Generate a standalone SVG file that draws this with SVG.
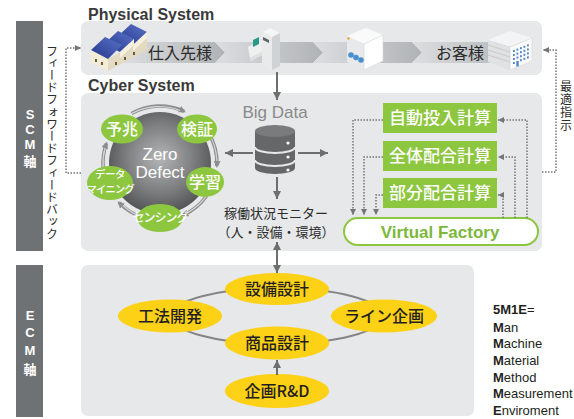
<svg xmlns="http://www.w3.org/2000/svg" width="574" height="419" viewBox="0 0 574 419">
  <style>
    .panel { fill: #e6e8e9; }
    .axis { fill: #6f7275; }
    .axis-t { font-family: "Liberation Sans", "Noto Sans CJK JP", sans-serif; font-weight: bold; font-size: 13px; fill: #ffffff; text-anchor: middle; }
    .title { font-family: "Liberation Sans", sans-serif; font-weight: bold; font-size: 16px; fill: #3a3a3a; }
    .jp { font-family: "Noto Sans CJK JP", sans-serif; }
    .dark { fill: #2b2b2b; }
    .solid { fill: none; stroke: #6e6e6e; stroke-width: 2; }
    .dot { fill: none; stroke: #757575; stroke-width: 1.5; stroke-dasharray: 1.5 1.5; }
    .ring { fill: none; stroke: #8e8e8e; stroke-width: 3.5; }
    .ring-hi { fill: none; stroke: #d6d6d6; stroke-width: 1.2; }
    .green { fill: #8dc63f; }
    .gtxt { font-family: "Noto Sans CJK JP", sans-serif; font-weight: 500; fill: #ffffff; text-anchor: middle; }
    .yellow { fill: #fdd116; }
    .ytxt { font-family: "Noto Sans CJK JP", sans-serif; font-weight: 500; font-size: 16px; fill: #231f20; text-anchor: middle; }
    .m5 { font-family: "Liberation Sans", sans-serif; font-size: 13px; fill: #231f20; }
  </style>
  <defs>
    <linearGradient id="band" x1="0" y1="0" x2="1" y2="0">
      <stop offset="0" stop-color="#dcdee0"/>
      <stop offset="1" stop-color="#b0b3b5"/>
    </linearGradient>
    <radialGradient id="zd" cx="0.5" cy="0.45" r="0.55">
      <stop offset="0" stop-color="#b4b5b7"/>
      <stop offset="0.6" stop-color="#7d7e80"/>
      <stop offset="1" stop-color="#535456"/>
    </radialGradient>
    <linearGradient id="roof" x1="0" y1="1" x2="1" y2="0">
      <stop offset="0" stop-color="#24378a"/>
      <stop offset="1" stop-color="#5a73c8"/>
    </linearGradient>
    <marker id="ah" viewBox="0 0 8 8" refX="8" refY="4" markerWidth="8" markerHeight="8" markerUnits="userSpaceOnUse" orient="auto-start-reverse">
      <path d="M0,0 L8,4 L0,8 z" fill="#6e6e6e"/>
    </marker>
    <marker id="ahd" viewBox="0 0 6 6" refX="6" refY="3" markerWidth="6" markerHeight="6" markerUnits="userSpaceOnUse" orient="auto">
      <path d="M0,0 L6,3 L0,6 z" fill="#757575"/>
    </marker>
    <marker id="ahr" viewBox="0 0 7 7" refX="5" refY="3.5" markerWidth="7" markerHeight="7" markerUnits="userSpaceOnUse" orient="auto">
      <path d="M0,0 L7,3.5 L0,7 z" fill="#8e8e8e"/>
    </marker>
  </defs>

  <!-- axis bars -->
  <g id="scm-axis">
    <rect class="axis" x="16" y="21" width="27" height="230"/>
    <text class="axis-t" x="30" y="119">S</text>
    <text class="axis-t" x="30" y="134">C</text>
    <text class="axis-t" x="30" y="149">M</text>
    <text class="axis-t" x="30" y="166">軸</text>
  </g>
  <g id="ecm-axis">
    <rect class="axis" x="16" y="265" width="27" height="152"/>
    <text class="axis-t" x="30" y="320">E</text>
    <text class="axis-t" x="30" y="337">C</text>
    <text class="axis-t" x="30" y="355">M</text>
    <text class="axis-t" x="30" y="374">軸</text>
  </g>

  <!-- panels -->
  <g id="physical-system">
    <rect class="panel" x="81" y="21" width="461" height="54" rx="7"/>
    <text class="title" x="88" y="20">Physical System</text>
    <polygon fill="url(#band)" points="122,42 215,42 225,52.5 215,63 122,63"/>
    <polygon fill="url(#band)" points="215,42 313,42 323,52.5 313,63 215,63 225,52.5"/>
    <polygon fill="url(#band)" points="313,42 412,42 422,52.5 412,63 313,63 323,52.5"/>
    <polygon fill="url(#band)" points="412,42 525,42 525,63 412,63 422,52.5"/>
  </g>
  <g id="cyber-system">
    <rect class="panel" x="81" y="93" width="461" height="158" rx="7"/>
    <text class="title" x="88" y="91">Cyber System</text>
  </g>
  <g id="ecm-panel">
    <rect class="panel" x="81" y="265" width="393" height="151" rx="7"/>
  </g>

  <!-- supplier factory -->
  <g id="supplier">
    <polygon fill="#f3ecd6" points="91,50 108,59 108,71 91,62"/>
    <polygon fill="#e2dac2" points="108,59 147,38 147,50 108,71"/>
    <g fill="#6b5a3a">
      <rect x="95" y="59" width="2" height="3"/>
      <rect x="101" y="62" width="2" height="3"/>
      <rect x="115" y="62" width="2" height="3"/>
      <rect x="124" y="57" width="2" height="3"/>
      <rect x="133" y="52" width="2" height="3"/>
    </g>
    <polygon fill="url(#roof)" points="117,37 131,24 147,32 133,45"/>
    <polygon fill="#f6f0de" points="133,45 147,32 147,38 133,51"/>
    <polygon fill="url(#roof)" points="104,44 118,31 134,39 120,52"/>
    <polygon fill="#f6f0de" points="120,52 134,39 134,45 120,58"/>
    <polygon fill="url(#roof)" points="91,50 105,37 122,45 108,59"/>
    <text class="jp dark" x="148" y="59" font-size="16">仕入先様</text>
  </g>

  <!-- production machine -->
  <g id="machine">
    <polygon fill="#f4f5f5" points="262,32 270,28 280,33 272,37"/>
    <polygon fill="#e9ebeb" points="262,32 272,37 272,70 262,65"/>
    <polygon fill="#cfd3d4" points="272,37 280,33 280,66 272,70"/>
    <polygon fill="#eef0f0" points="248,47 262,40 262,52 250,58"/>
    <polygon fill="#dfe2e3" points="250,58 262,52 262,55 251,61"/>
    <polygon fill="#2a9a86" points="253,40 259,37 259,44 253,47"/>
    <polygon fill="#5d6468" points="263,37 269,40 269,43 263,40"/>
  </g>

  <!-- process unit -->
  <g id="process-unit">
    <polygon fill="#fafafa" points="347,36 366,28 383,35 364,44"/>
    <polygon fill="#e8e9ea" points="347,36 364,44 364,70 347,62"/>
    <polygon fill="#ffffff" stroke="#d3d5d6" stroke-width="0.6" points="364,44 383,35 383,61 364,70"/>
    <circle cx="348.5" cy="38.5" r="1.2" fill="#f0a030"/>
    <circle cx="351" cy="55" r="2.8" fill="#4a8fd0"/>
    <circle cx="356" cy="57.5" r="2.8" fill="#4a8fd0"/>
    <circle cx="361" cy="60" r="2.8" fill="#4a8fd0"/>
  </g>

  <!-- customer office -->
  <g id="customer">
    <text class="jp dark" x="436" y="59" font-size="16">お客様</text>
    <polygon fill="#f4f4f4" points="488,40 510,31 532,38 510,47"/>
    <polygon fill="#dfe1e2" points="488,40 510,47 510,70 488,62"/>
    <polygon fill="#fafafa" stroke="#d3d5d6" stroke-width="0.6" points="510,47 532,38 532,61 510,70"/>
    <g stroke="#b9bcbe" stroke-width="0.6">
      <line x1="488" y1="45" x2="510" y2="52"/>
      <line x1="488" y1="50" x2="510" y2="57"/>
      <line x1="488" y1="55" x2="510" y2="62"/>
    </g>
    <g fill="#4f86c6">
      <rect x="513" y="50" width="1.8" height="2"/><rect x="516.5" y="48.6" width="1.8" height="2"/><rect x="520" y="47.2" width="1.8" height="2"/><rect x="523.5" y="45.8" width="1.8" height="2"/><rect x="527" y="44.4" width="1.8" height="2"/>
      <rect x="513" y="54" width="1.8" height="2"/><rect x="516.5" y="52.6" width="1.8" height="2"/><rect x="520" y="51.2" width="1.8" height="2"/><rect x="523.5" y="49.8" width="1.8" height="2"/><rect x="527" y="48.4" width="1.8" height="2"/>
      <rect x="513" y="58" width="1.8" height="2"/><rect x="516.5" y="56.6" width="1.8" height="2"/><rect x="520" y="55.2" width="1.8" height="2"/><rect x="523.5" y="53.8" width="1.8" height="2"/><rect x="527" y="52.4" width="1.8" height="2"/>
      <rect x="513" y="62" width="1.8" height="2"/><rect x="520" y="59.2" width="1.8" height="2"/><rect x="523.5" y="57.8" width="1.8" height="2"/><rect x="527" y="56.4" width="1.8" height="2"/>
      <rect x="516.3" y="61" width="2.4" height="5.5"/>
    </g>
  </g>

  <!-- zero defect cycle -->
  <g id="zero-defect">
    <circle cx="160" cy="163" r="51" fill="url(#zd)"/>
    <text x="160" y="160" font-family="Liberation Sans, sans-serif" font-size="17" fill="#ffffff" text-anchor="middle">Zero</text>
    <text x="160" y="178" font-family="Liberation Sans, sans-serif" font-size="17" fill="#ffffff" text-anchor="middle">Defect</text>
  </g>

  <g id="cycle-arrows">
    <path class="ring" marker-end="url(#ahr)" d="M131.5,113.6 A57,57 0 0 1 184.1,111.3"/>
    <path class="ring" marker-end="url(#ahr)" d="M208.3,132.8 A57,57 0 0 1 216.9,166"/>
    <path class="ring" marker-end="url(#ahr)" d="M206.7,195.7 A57,57 0 0 1 183.2,215.1"/>
    <path class="ring" marker-end="url(#ahr)" d="M142.4,217.2 A57,57 0 0 1 119,202.6"/>
    <path class="ring" marker-end="url(#ahr)" d="M103.2,168 A57,57 0 0 1 106.4,143.5"/>
    <path class="ring-hi" d="M131.5,113.6 A57,57 0 0 1 180,110.5"/>
    <path class="ring-hi" d="M208.3,132.8 A57,57 0 0 1 216.9,161"/>
    <path class="ring-hi" d="M206.7,195.7 A57,57 0 0 1 187,213"/>
    <path class="ring-hi" d="M142.4,217.2 A57,57 0 0 1 123,205.5"/>
    <path class="ring-hi" d="M103.2,168 A57,57 0 0 1 105,148"/>
  </g>

  <g id="yocho">
    <ellipse class="green" cx="122" cy="129" rx="21" ry="14.5"/>
    <text class="gtxt" x="122" y="135" font-size="16">予兆</text>
  </g>
  <g id="kensho">
    <ellipse class="green" cx="197" cy="129" rx="20" ry="14.5"/>
    <text class="gtxt" x="197" y="135" font-size="16">検証</text>
  </g>
  <g id="gakushu">
    <ellipse class="green" cx="205" cy="182" rx="19" ry="15"/>
    <text class="gtxt" x="205" y="188" font-size="16">学習</text>
  </g>
  <g id="sensing">
    <ellipse class="green" cx="160" cy="218" rx="23" ry="14"/>
    <text class="gtxt" x="160" y="222" font-size="12" letter-spacing="-1">センシング</text>
  </g>
  <g id="data-mining">
    <ellipse class="green" cx="110" cy="183" rx="23" ry="17"/>
    <text class="gtxt" x="110" y="178" font-size="10.5" letter-spacing="-0.5">データ</text>
    <text class="gtxt" x="110" y="193" font-size="10.5" letter-spacing="-1">マイニング</text>
  </g>

  <!-- big data -->
  <g id="big-data">
    <text x="275" y="118" font-family="Liberation Sans, sans-serif" font-size="17" fill="#8a8a8a" text-anchor="middle">Big Data</text>
    <path fill="#666769" d="M255,131 V168 A20,6 0 0 0 295,168 V131 Z"/>
    <ellipse cx="275" cy="131" rx="20" ry="6" fill="#7a7b7d"/>
    <path fill="none" stroke="#e6e8e9" stroke-width="2" d="M255,147 A20,6 0 0 0 295,147 M255,160 A20,6 0 0 0 295,160"/>
    <circle cx="288" cy="143" r="1.6" fill="#ffffff"/>
    <circle cx="288" cy="157" r="1.6" fill="#ffffff"/>
    <circle cx="288" cy="170" r="1.6" fill="#ffffff"/>
  </g>
  <g id="monitor">
    <text class="jp dark" x="276" y="218" font-size="13" text-anchor="middle">稼働状況モニター</text>
    <text class="jp dark" x="276" y="237" font-size="13" text-anchor="middle">（人・設備・環境）</text>
  </g>

  <!-- calculation blocks -->
  <g id="auto-input">
    <rect class="green" x="383" y="103" width="114" height="30"/>
    <text class="gtxt" x="440" y="124" font-size="17">自動投入計算</text>
  </g>
  <g id="overall-mix">
    <rect class="green" x="383" y="141" width="114" height="30"/>
    <text class="gtxt" x="440" y="162" font-size="17">全体配合計算</text>
  </g>
  <g id="partial-mix">
    <rect class="green" x="383" y="178" width="114" height="30"/>
    <text class="gtxt" x="440" y="199" font-size="17">部分配合計算</text>
  </g>
  <g id="virtual-factory">
    <rect x="344" y="218" width="194" height="27" rx="13.5" fill="#ffffff" stroke="#8dc63f" stroke-width="2"/>
    <text x="440" y="238" font-family="Liberation Sans, sans-serif" font-weight="bold" font-size="17" fill="#7cb83c" text-anchor="middle">Virtual Factory</text>
  </g>

  <!-- ECM nodes -->
  <g id="ecm-links">
    <ellipse cx="277" cy="316" rx="106" ry="28" fill="none" stroke="#858585" stroke-width="2"/>
  </g>
  <g id="equipment-design">
    <ellipse class="yellow" cx="277" cy="289" rx="52" ry="16"/>
    <text class="ytxt" x="277" y="295">設備設計</text>
  </g>
  <g id="method-dev">
    <ellipse class="yellow" cx="170" cy="316" rx="52" ry="16.5"/>
    <text class="ytxt" x="170" y="322">工法開発</text>
  </g>
  <g id="line-planning">
    <ellipse class="yellow" cx="384" cy="316" rx="53" ry="16.5"/>
    <text class="ytxt" x="384" y="322">ライン企画</text>
  </g>
  <g id="product-design">
    <ellipse class="yellow" cx="277" cy="343" rx="52" ry="16.5"/>
    <text class="ytxt" x="277" y="349">商品設計</text>
  </g>
  <g id="planning-rd">
    <ellipse class="yellow" cx="277" cy="391" rx="52" ry="17"/>
    <text class="ytxt" x="277" y="397">企画R&amp;D</text>
  </g>

  <!-- side labels -->
  <g id="feedforward-label">
    <text class="jp dark" x="52" y="45" font-size="12" style="writing-mode: vertical-rl" letter-spacing="0.2">フィードフォワードフィードバック</text>
  </g>
  <g id="optimal-label">
    <text class="jp dark" x="566" y="80" font-size="12" style="writing-mode: vertical-rl" letter-spacing="1">最適指示</text>
  </g>

  <!-- 5M1E legend -->
  <g id="legend-5m1e">
    <text class="m5" x="493" y="314"><tspan font-weight="bold">5M1E</tspan>=</text>
    <text class="m5" x="493" y="332"><tspan font-weight="bold">M</tspan>an</text>
    <text class="m5" x="493" y="348"><tspan font-weight="bold">M</tspan>achine</text>
    <text class="m5" x="493" y="365"><tspan font-weight="bold">M</tspan>aterial</text>
    <text class="m5" x="493" y="382"><tspan font-weight="bold">M</tspan>ethod</text>
    <text class="m5" x="493" y="398"><tspan font-weight="bold">M</tspan>easurement</text>
    <text class="m5" x="493" y="415"><tspan font-weight="bold">E</tspan>nviroment</text>
  </g>

  <!-- connectors -->
  <g id="connectors">
    <path class="solid" marker-end="url(#ah)" d="M277,72 V100"/>
    <path class="solid" marker-end="url(#ah)" d="M253,153 H225"/>
    <path class="solid" marker-end="url(#ah)" d="M298,153 H328"/>
    <path class="solid" marker-end="url(#ah)" d="M277,177 V199"/>
    <path class="solid" marker-start="url(#ah)" marker-end="url(#ah)" d="M277,242 V273"/>
    <path class="solid" marker-end="url(#ah)" d="M277,375 V360"/>

    <path class="dot" marker-end="url(#ahd)" d="M81,173 H66 V48 H81"/>
    <path class="dot" marker-end="url(#ahd)" d="M542,172 H556 V50 H543"/>

    <path class="dot" marker-end="url(#ahd)" d="M383,120 H353 V215"/>
    <path class="dot" marker-end="url(#ahd)" d="M383,157 H364 V215"/>
    <path class="dot" marker-end="url(#ahd)" d="M383,195 H376 V215"/>
    <path class="dot" marker-end="url(#ahd)" d="M527,218 V120 H498"/>
    <path class="dot" marker-end="url(#ahd)" d="M515,218 V157 H498"/>
    <path class="dot" marker-end="url(#ahd)" d="M503,218 V195 H498"/>
  </g>
</svg>
